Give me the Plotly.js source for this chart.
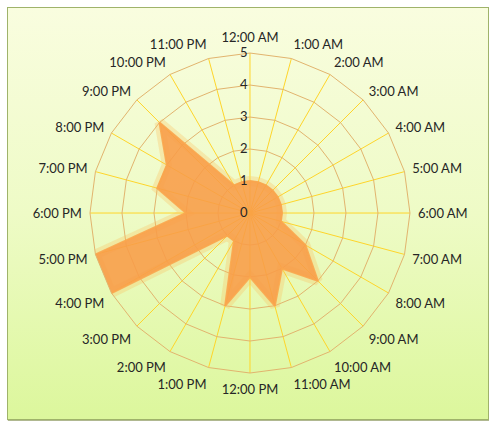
<!DOCTYPE html>
<html><head><meta charset="utf-8">
<script src="https://cdn.plot.ly/plotly-3.0.1.min.js"></script>
<style>
html,body{margin:0;padding:0;background:#fff;}
#frame{position:absolute;left:7px;top:7px;width:480px;height:411px;border:1px solid #9fb36a;
 background:linear-gradient(to bottom,#f9fddf 0%,#eefbc6 50%,#dcf79c 100%);box-shadow:1px 1px 1px #b0b890;}
#chart{position:absolute;left:0;top:0;width:489px;height:421px;}
</style></head>
<body><div id="frame"></div><div id="chart"></div>
<script>
const hours = ["12:00 AM","1:00 AM","2:00 AM","3:00 AM","4:00 AM","5:00 AM","6:00 AM","7:00 AM","8:00 AM","9:00 AM","10:00 AM","11:00 AM",
 "12:00 PM","1:00 PM","2:00 PM","3:00 PM","4:00 PM","5:00 PM","6:00 PM","7:00 PM","8:00 PM","9:00 PM","10:00 PM","11:00 PM"];
const counts = [1,1,1,1,1,1,1,1,2,3,2,3,2,3,1,1,5,5,2,3,3,4,1,1];
const radialTicks = [0,1,2,3,4,5];

const th = hours.concat([hours[0]]);
const rr = counts.concat([counts[0]]);
const traces = [
 {type:'scatterpolar', r:rr, theta:th, mode:'lines', fill:'none',
  line:{color:'rgba(252,190,90,0.3)', width:10}, hoverinfo:'skip'},
 {type:'scatterpolar', r:rr, theta:th, mode:'lines', fill:'toself',
  fillcolor:'rgba(248,156,72,0.88)', line:{color:'rgba(249,165,78,0.9)', width:2}, hoverinfo:'skip'}
];
const layout = {
 width:489, height:421, margin:{l:0,r:0,t:0,b:0},
 paper_bgcolor:'rgba(0,0,0,0)', showlegend:false,
 font:{family:'Lato, "Open Sans", sans-serif', size:13, color:'#262626'},
 polar:{
  domain:{x:[0.184,0.8384], y:[0.114,0.874]},
  bgcolor:'rgba(0,0,0,0)', gridshape:'linear',
  angularaxis:{type:'category', categoryarray:hours, direction:'clockwise', rotation:90,
   gridcolor:'#ffd52a', gridwidth:1, linecolor:'#e2b46e', linewidth:1, showline:true,
   ticks:'outside', ticklen:5, tickcolor:'rgba(0,0,0,0)', tickfont:{size:13, color:'#262626'}, layer:'above traces'},
  radialaxis:{range:[0,5], tickvals:radialTicks, angle:90, tickangle:90, side:'counterclockwise',
   ticksuffix:'\u2002\u2009',
   gridcolor:'#e2b46e', gridwidth:1, showline:false, ticks:'', tickfont:{size:13,color:'#262626'}, layer:'above traces'}
 }
};
Plotly.newPlot('chart', traces, layout, {displayModeBar:false, staticPlot:true});
</script></body></html>
